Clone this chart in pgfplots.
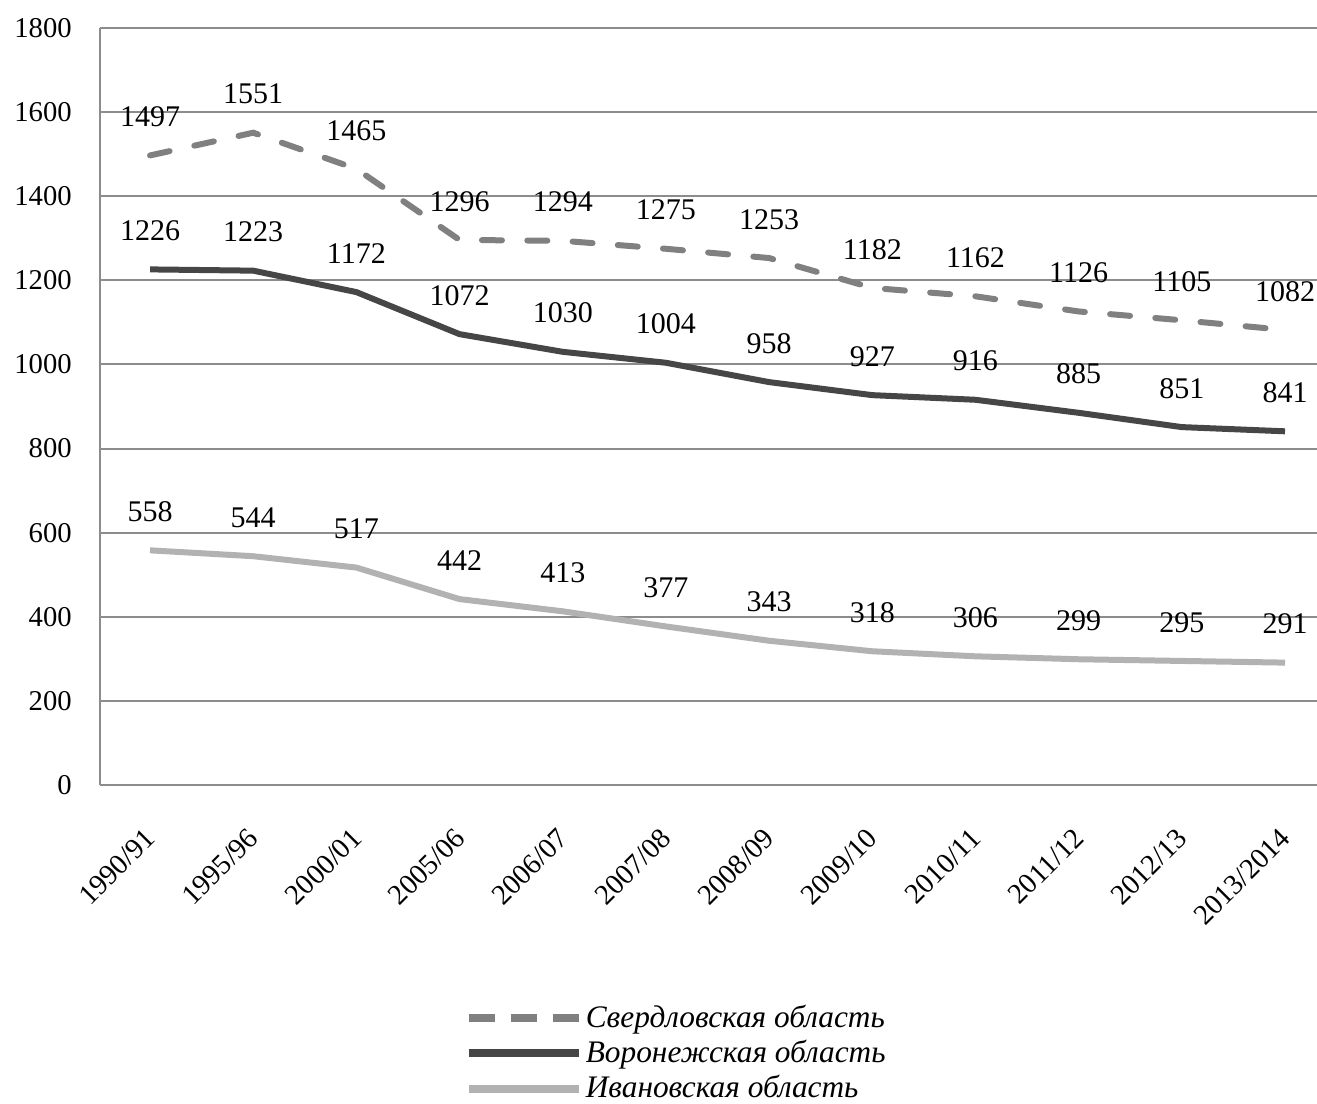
\documentclass[border=0pt]{standalone}
\usepackage{pgfplots}
\pgfplotsset{compat=1.18}
\usepackage{fontspec}
\setmainfont{Liberation Serif}

\definecolor{sverd}{RGB}{128,128,128}
\definecolor{voron}{RGB}{70,70,70}
\definecolor{ivan}{RGB}{178,178,178}
\definecolor{gridc}{RGB}{140,140,140}

\begin{document}
\begin{tikzpicture}
\fontsize{21}{25}\selectfont
\begin{axis}[
    scale only axis,
    width=912.75pt,
    height=567.75pt,
    xmin=-0.485, xmax=11.31,
    ymin=0, ymax=1800,
    ytick={0,200,...,1800},
    xtick={0,...,11},
    xticklabels={1990/91,1995/96,2000/01,2005/06,2006/07,2007/08,2008/09,2009/10,2010/11,2011/12,2012/13,2013/2014},
    axis x line*=bottom,
    axis y line*=left,
    axis line style={gridc, line width=1.5pt, -},
    major tick length=0pt,
    ymajorgrids,
    major grid style={gridc, line width=1.5pt},
    /pgf/number format/assume math mode=true,
    /pgf/number format/1000 sep={},
    tick label style={font=\fontsize{21.5}{25}\selectfont},
    yticklabel style={xshift=-14pt},
    xticklabel style={xshift=-5pt, yshift=-21pt, rotate=45, anchor=north east},
    nodes near coords,
    nodes near coords style={font=\fontsize{22.5}{26}\selectfont, text=black, anchor=center, yshift=29pt,
        /pgf/number format/1000 sep={}},
    legend style={at={(axis description cs:0.296,-0.283)}, anchor=north west, draw=none, fill=none,
        font=\itshape\fontsize{23.5}{27}\selectfont, row sep=2.5pt, cells={anchor=west}},
    legend image code/.code={\draw[#1, line width=6pt] (0pt,0pt) -- (83pt,0pt);},
    clip=false,
]
\addplot[sverd, line width=4.5pt, line cap=round, dash pattern=on 15pt off 19pt,
    legend image code/.code={\draw[sverd, line width=6pt, line cap=butt, dash pattern=on 20pt off 11.5pt] (0pt,0pt) -- (83pt,0pt);}]
    coordinates {
    (0,1497) (1,1551) (2,1465) (3,1296) (4,1294) (5,1275)
    (6,1253) (7,1182) (8,1162) (9,1126) (10,1105) (11,1082)
};
\addplot[voron, line width=4.5pt] coordinates {
    (0,1226) (1,1223) (2,1172) (3,1072) (4,1030) (5,1004)
    (6,958) (7,927) (8,916) (9,885) (10,851) (11,841)
};
\addplot[ivan, line width=4.5pt] coordinates {
    (0,558) (1,544) (2,517) (3,442) (4,413) (5,377)
    (6,343) (7,318) (8,306) (9,299) (10,295) (11,291)
};
\legend{Свердловская область, Воронежская область, Ивановская область}
\end{axis}
\pgfresetboundingbox
\path[use as bounding box] (-75pt,-238.5pt) rectangle (912.75pt,588.75pt);
\end{tikzpicture}
\end{document}
